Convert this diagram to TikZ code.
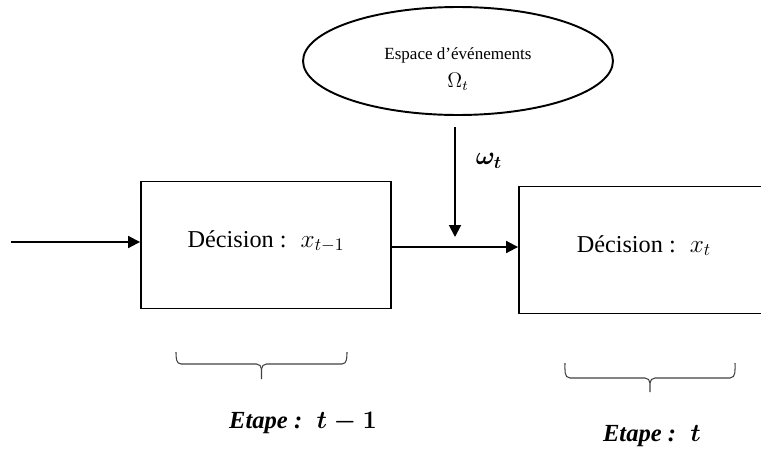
\documentclass[tikz,border=0pt]{standalone}
\usepackage{fontspec}
\setmainfont{Liberation Serif}
\usetikzlibrary{shapes.geometric,arrows.meta}

% accolade horizontale : x gauche, x droite, y des bouts, y du trait, y de la pointe
\newcommand{\accolade}[5]{%
  \pgfmathsetmacro{\xmil}{(#1+#2)/2}
  \draw[accolade] (#1,#3) to[out=-90,in=180] (#1+5,#4) -- (\xmil-5,#4)
    to[out=0,in=90] (\xmil,#4+5) -- (\xmil,#5);
  \draw[accolade] (\xmil,#4+5) to[out=90,in=180] (\xmil+5,#4) -- (#2-5,#4)
    to[out=0,in=-90] (#2,#3);
}

\begin{document}
\begin{tikzpicture}[x=0.02cm, y=-0.02cm,
  bloc/.style={draw, line width=1.1pt, minimum width=5cm, minimum height=2.54cm,
    text depth=0.25cm, font=\fontsize{13.8}{16}\selectfont},
  fleche/.style={line width=1.1pt, -{Triangle[length=6.8pt,width=6.8pt]}},
  accolade/.style={line width=0.6pt, draw=black!75},
  etape/.style={font=\fontsize{14}{16}\selectfont\bfseries\itshape\boldmath}]
  \useasboundingbox (0,0) rectangle (761,450);

  % espace des aleas
  \node[ellipse, draw, line width=1.1pt, minimum width=6.2cm, minimum height=2.16cm,
    align=center, font=\fontsize{9.7}{12}\selectfont] (evt) at (458,61)
    {\rule{0pt}{16pt}Espace d’événements\\[3.5pt]{\fontsize{12}{14}\selectfont$\Omega_t$}};

  % les deux decisions
  \node[bloc] (dprev) at (266,245) {Décision :~ $x_{t-1}$};
  \node[bloc] (dcur) at (644,250) {Décision :~ $x_t$};

  \coordinate (entree) at (11,242);
  \coordinate (jonction) at (455,247);
  \coordinate (omhaut) at (455,127);
  \coordinate (omfin) at (455,237);

  \draw[fleche] (entree) -- (entree -| dprev.west);
  \draw[fleche] (dprev.east |- jonction) -- (jonction -| dcur.west);
  \draw[fleche] (omhaut) -- (omfin);
  \node[font=\fontsize{14.5}{16}\selectfont\boldmath] (omega) at (489,161) {$\omega_t$};

  % etapes
  \accolade{176}{347}{352}{364}{379}
  \accolade{565}{735}{363}{378}{392}
  \node[etape] (etprev) at (303,423) {Etape :~ $t-1$};
  \node[etape] (etcur) at (652,436) {Etape :~ $t$};
\end{tikzpicture}
\end{document}
